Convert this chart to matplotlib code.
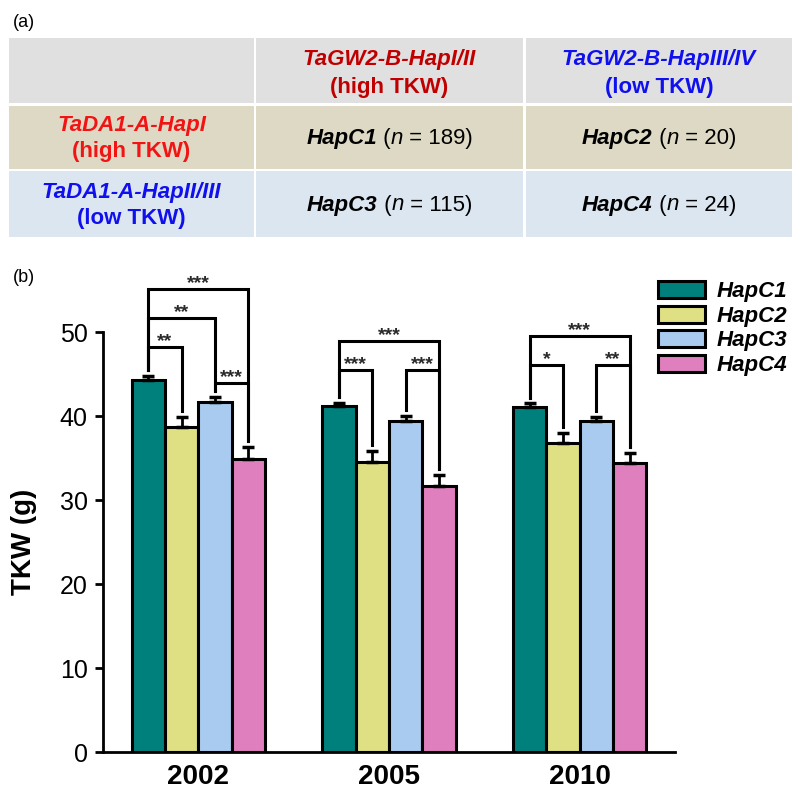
import numpy as np
import matplotlib
matplotlib.use('Agg')
import matplotlib.pyplot as plt
from matplotlib.patches import Rectangle
from matplotlib.offsetbox import TextArea, HPacker, AnnotationBbox

plt.rcParams['font.family'] = ['Liberation Sans', 'DejaVu Sans']

# ---- data: table (a)
col_heads = ['TaGW2-B-HapI/II', 'TaGW2-B-HapIII/IV']
col_sub = ['(high TKW)', '(low TKW)']
row_heads = ['TaDA1-A-HapI', 'TaDA1-A-HapII/III']
row_sub = ['(high TKW)', '(low TKW)']
combos = [['HapC1', 'HapC2'], ['HapC3', 'HapC4']]
counts = [[189, 20], [115, 24]]

# ---- data: bar chart (b)
years = ['2002', '2005', '2010']
haps = ['HapC1', 'HapC2', 'HapC3', 'HapC4']
tkw_c1 = [44.3, 41.2, 41.1]
tkw_c2 = [38.7, 34.5, 36.8]
tkw_c3 = [41.7, 39.4, 39.4]
tkw_c4 = [34.9, 31.7, 34.4]
se_c1 = [0.5, 0.35, 0.4]
se_c2 = [1.2, 1.3, 1.2]
se_c3 = [0.6, 0.6, 0.5]
se_c4 = [1.4, 1.3, 1.2]
# (year index, bar i, bar j, bracket height, label)
signif = [(0, 0, 1, 48.2, '**'), (0, 0, 2, 51.7, '**'), (0, 0, 3, 55.1, '***'), (0, 2, 3, 43.9, '***'),
          (1, 0, 3, 48.9, '***'), (1, 0, 1, 45.5, '***'), (1, 2, 3, 45.5, '***'),
          (2, 0, 3, 49.5, '***'), (2, 0, 1, 46.1, '*'), (2, 2, 3, 46.1, '**')]

vals = [tkw_c1, tkw_c2, tkw_c3, tkw_c4]
errs = [se_c1, se_c2, se_c3, se_c4]
bar_colors = ['#00807C', '#DFDF84', '#A9CBEF', '#E07FBE']

red_dark = '#C00000'
red = '#F21414'
blue = '#1010EE'
head_colors = [red_dark, blue]
rowh_colors = [red, blue]

fig = plt.figure(figsize=(7.92, 7.94), dpi=100)

# full-figure helper axes in pixel units for the table and panel letters
tab = fig.add_axes([0, 0, 1, 1])
tab.set_xlim(0, 792)
tab.set_ylim(794, 0)
tab.axis('off')

col_x = [(9, 254), (256, 523), (526, 792)]
row_y = [(38, 103), (106, 169), (171, 237)]
row_bg = ['#E0E0E0', '#DDD9C4', '#DCE6F1']
for r, (y0, y1) in enumerate(row_y):
    for (x0, x1) in col_x:
        tab.add_patch(Rectangle((x0, y0), x1 - x0, y1 - y0, facecolor=row_bg[r], edgecolor='none'))

fs = 16
# column headers
for k in range(2):
    cx = sum(col_x[k + 1]) / 2
    cy = sum(row_y[0]) / 2
    tab.text(cx, cy - 6, col_heads[k], ha='center', va='baseline', fontsize=fs,
             weight='bold', style='italic', color=head_colors[k])
    tab.text(cx, cy + 22, col_sub[k], ha='center', va='baseline', fontsize=fs,
             weight='bold', color=head_colors[k])

# row headers and cells
for r in range(2):
    cy = sum(row_y[r + 1]) / 2
    cx = sum(col_x[0]) / 2
    tab.text(cx, cy - 6, row_heads[r], ha='center', va='baseline', fontsize=fs,
             weight='bold', style='italic', color=rowh_colors[r])
    tab.text(cx, cy + 20, row_sub[r], ha='center', va='baseline', fontsize=fs,
             weight='bold', color=rowh_colors[r])
    for c in range(2):
        parts = [TextArea(combos[r][c], textprops=dict(fontsize=fs, weight='bold', style='italic')),
                 TextArea(' (', textprops=dict(fontsize=fs)),
                 TextArea('n', textprops=dict(fontsize=fs, style='italic')),
                 TextArea(' = %d)' % counts[r][c], textprops=dict(fontsize=fs))]
        box = HPacker(children=parts, align='baseline', pad=0, sep=0)
        ab = AnnotationBbox(box, (sum(col_x[c + 1]) / 2, cy + 1), xycoords='data',
                            frameon=False, box_alignment=(0.5, 0.5), pad=0)
        tab.add_artist(ab)

tab.text(13, 27, '(a)', fontsize=13, va='baseline')
tab.text(13, 282, '(b)', fontsize=13, va='baseline')

# ---- bar chart
ax = fig.add_axes([103 / 792, 1 - 752 / 794, 572 / 792, 420 / 794])
x = np.arange(len(years))
w = 0.175
offs = [(k - 1.5) * w for k in range(4)]
for k in range(4):
    ax.bar(x + offs[k], vals[k], w, color=bar_colors[k], edgecolor='black', linewidth=2.2,
           label=haps[k], zorder=2)
    ax.errorbar(x + offs[k], vals[k], yerr=[np.zeros(3), errs[k]], fmt='none', ecolor='black',
                elinewidth=2, capsize=4.5, capthick=2.5, zorder=3)

gap = 0.7
for g, i, j, h, lab in signif:
    xi, xj = g + offs[i], g + offs[j]
    bi = vals[i][g] + errs[i][g] + gap
    bj = vals[j][g] + errs[j][g] + gap
    ax.plot([xi, xi, xj, xj], [bi, h, h, bj], color='black', lw=2.2, clip_on=False,
            solid_joinstyle='miter', zorder=4)
    ax.annotate(lab, ((xi + xj) / 2, h), xytext=(0, 0.5), textcoords='offset points',
                ha='center', va='baseline', fontsize=14, weight='bold', color='#2a2a2a',
                annotation_clip=False)

ax.set_xlim(-0.5, 2.5)
ax.set_ylim(0, 50)
ax.set_yticks([0, 10, 20, 30, 40, 50])
ax.set_xticks(x)
ax.set_xticklabels(years, fontsize=20, weight='bold')
ax.tick_params(axis='x', length=0, pad=9)
ax.tick_params(axis='y', labelsize=18, length=6, width=2, pad=5)
for s in ['top', 'right']:
    ax.spines[s].set_visible(False)
for s in ['left', 'bottom']:
    ax.spines[s].set_linewidth(2)
ax.set_ylabel('TKW (g)', fontsize=20, weight='bold')
ax.yaxis.set_label_coords(-0.115, 0.5)

ax.legend(loc='upper left', bbox_to_anchor=(658 / 792, 1 - 281 / 794), bbox_transform=fig.transFigure,
          frameon=False, prop=dict(weight='bold', style='italic', size=16), handlelength=2.1,
          handleheight=0.8, handletextpad=0.55, labelspacing=0.15, borderpad=0, borderaxespad=0)

fig.savefig('out.png', dpi=100)
